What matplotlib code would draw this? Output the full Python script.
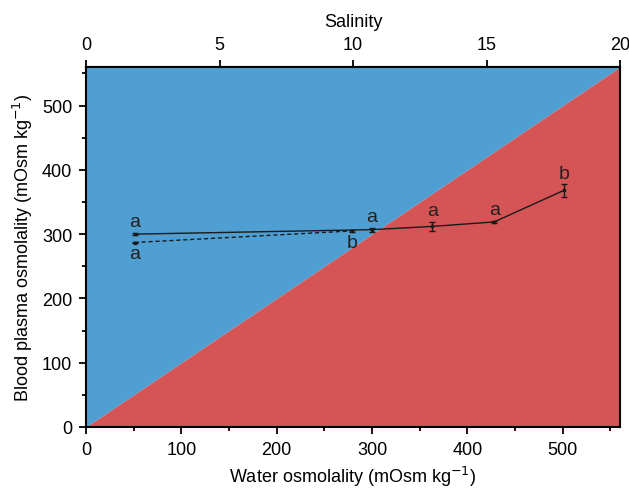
import numpy as np
import matplotlib.pyplot as plt

plt.rcParams['font.family'] = ['Liberation Sans', 'DejaVu Sans']
plt.rcParams['font.size'] = 13

# data
water_solid = [51, 300, 363, 428, 501]
plasma_solid = [300, 307, 312, 319, 368]
err_solid = [2, 3, 7.5, 2, 9.5]
letters_solid = ['a', 'a', 'a', 'a', 'b']

water_dash = [51, 279]
plasma_dash = [287, 305]
err_dash = [1.5, 1.5]
letters_dash = ['a', 'b']

lim = 560
sal_per_unit = 28.0  # mOsm kg-1 per salinity unit

blue = '#4F9FD3'
red = '#D55455'

fig = plt.figure(figsize=(6.29, 4.89), dpi=100)
ax = fig.add_axes([86/629, 1 - 428/489, 534/629, 360/489])

# hypo / hyper osmotic regions
ax.fill_between([0, lim], [0, lim], [lim, lim], color=blue, lw=0)
ax.fill_between([0, lim], [0, 0], [0, lim], color=red, lw=0)

ax.errorbar(water_solid, plasma_solid, yerr=err_solid, color='#1a1a1a', lw=1,
            marker='s', ms=2, capsize=2, elinewidth=1, capthick=1)
ax.errorbar(water_dash, plasma_dash, yerr=err_dash, color='#1a1a1a', lw=1,
            ls=(0, (3, 2)), marker='s', ms=2, capsize=2, elinewidth=1, capthick=1)

for x, y, e, t in zip(water_solid, plasma_solid, err_solid, letters_solid):
    ax.annotate(t, (x, y + e), xytext=(0, 2), textcoords='offset points',
                ha='center', va='bottom', fontsize=14, color='#222222')
for x, y, t in zip(water_dash, plasma_dash, letters_dash):
    ax.annotate(t, (x, y), xytext=(0, -2), textcoords='offset points',
                ha='center', va='top', fontsize=14, color='#222222')

ax.set_xlim(0, lim)
ax.set_ylim(0, lim)
ax.set_xticks(np.arange(0, 501, 100))
ax.set_xticks(np.arange(50, 551, 100), minor=True)
ax.set_yticks(np.arange(0, 501, 100))
ax.set_yticks(np.arange(50, 551, 100), minor=True)
ax.tick_params(which='major', direction='out', length=5, width=1.3, pad=5)
ax.tick_params(which='minor', direction='out', length=3, width=1.3)
for s in ax.spines.values():
    s.set_linewidth(1.5)

ax.set_xlabel('Water osmolality (mOsm kg$^{-1}$)', labelpad=4)
ax.set_ylabel('Blood plasma osmolality (mOsm kg$^{-1}$)', labelpad=5)

sec = ax.secondary_xaxis('top', functions=(lambda x: x / sal_per_unit,
                                            lambda s: s * sal_per_unit))
sec.set_xticks([0, 5, 10, 15, 20])
sec.tick_params(direction='out', length=5, width=1.3, pad=5)
sec.spines['top'].set_linewidth(1.5)
sec.set_xlabel('Salinity', labelpad=7)

fig.savefig('out.png', dpi=100)
